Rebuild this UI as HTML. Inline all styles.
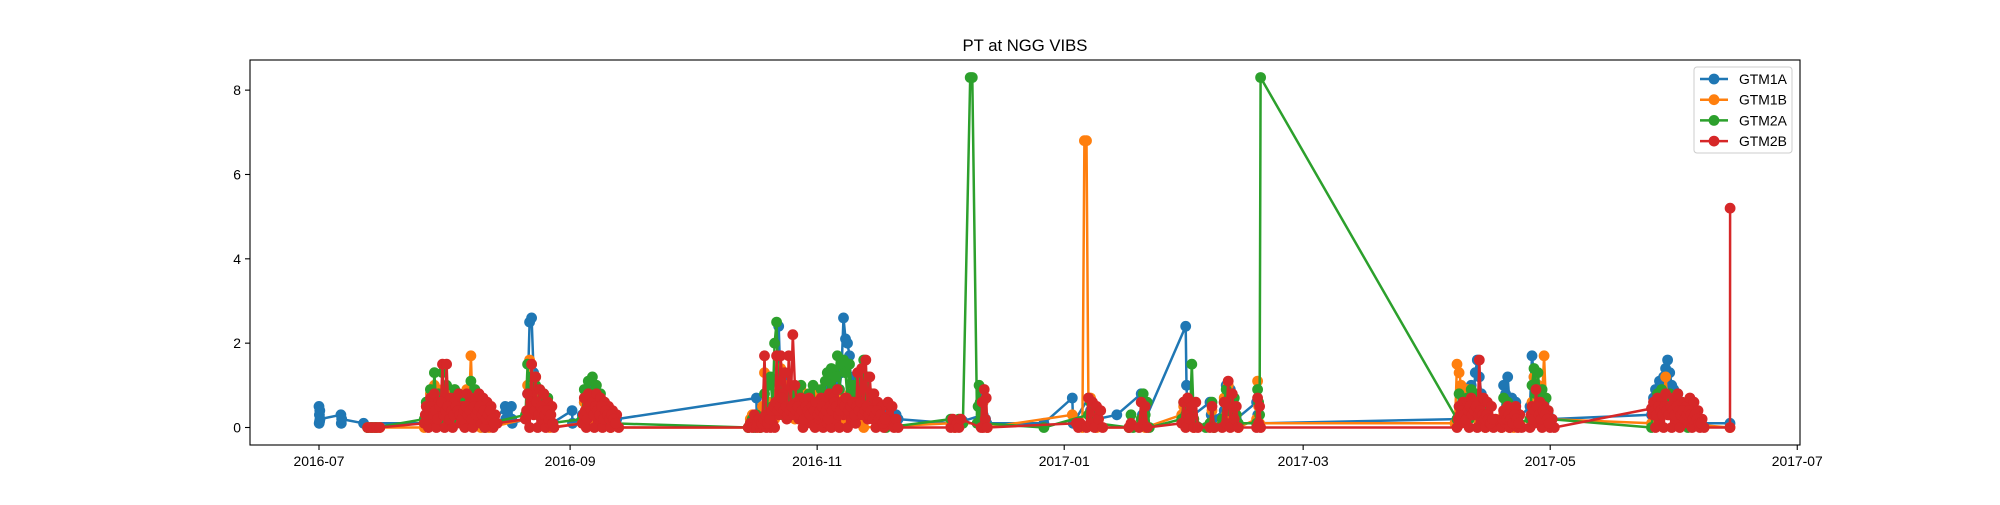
<!DOCTYPE html>
<html><head><meta charset="utf-8"><style>
body{margin:0;background:#fff;}
svg text{font-family:"Liberation Sans","DejaVu Sans",sans-serif;fill:#000;}
</style></head><body>
<svg id="chart" width="2000" height="500" xmlns="http://www.w3.org/2000/svg">
<rect width="2000" height="500" fill="#fff"/>
<text x="1025" y="51" font-size="16.7" text-anchor="middle">PT at NGG VIBS</text>
<g id="plot"></g>
<g id="axes"></g>
<g id="legend"></g>
</svg>
<script>
// segments: [startDay (days since 2016-07-01), sampleStepDays, values]
const gtm1aSegments = [
 [0,0.05,[0.5,0.1,0.3,0.15,0.4,0.2]],[5.4,0.1,[0.3,0.1,0.2]],[11,0.5,[0.1]],
 [26,0.5,[0.1,0.6,0.2,0.5,0.3,0.7,0.1,0.5,0.4,0.6,0.2,0.5,0.1,0.6,0.3,0.4,0.2,0.7,0.1,0.5,0.3,0.6,0.2,0.5,0.1,0.6,0.2,0.4,0.1,0.3,0.1,0.2,0.1,0.1,0.1]],
 [46,0.1,[0.5,0.2,0.4]],[47.5,0.1,[0.5,0.2,0.1]],
 [51,0.5,[0.2,0.8,2.5,2.6,1.3,0.8,0.4,0.7,0.3,0.6,0.2,0.5,0.1,0.1]],
 [62.5,0.1,[0.4,0.1]],
 [65,0.5,[0.3,0.6,0.9,0.4,1.0,0.5,0.8,0.3,0.7,0.2,0.6,0.3,0.5,0.2,0.4,0.2,0.2,0.2]],
 [108,0.1,[0.7,0.1]],
 [110,0.5,[0.1,0.4,0.2,0.3,0.1,0.5,1.1,2.4,0.9,1.3,0.6,1.2,0.5,0.8,0.3,0.6,0.4,0.7,0.3,0.8,0.4,0.6,0.3,0.7,0.5,0.4,0.6,0.3,0.5,0.8,0.4,0.9,0.5,1.0,0.6,1.1,0.4,0.9,1.3,2.6,2.1,2.0,1.7,0.8,1.2,0.5,0.7,0.4,0.6,0.3,0.5,0.4,0.6,0.3,0.5,0.3,0.4,0.3,0.3,0.3,0.3,0.4,0.3,0.3,0.3,0.3,0.2]],
 [156,1,[0.1,0.1,0.1,0.15]],[164,0.3,[0.3,0.7,0.2,0.1]],[179,1,[0.1]],[186,0.2,[0.7,0.1]],
 [190,0.5,[0.7,0.4,0.5,0.3,0.2]],[197,1,[0.3]],[203,0.3,[0.8,0.3,0.1]],[214,0.2,[2.4,1.0,0.5,0.2]],
 [220,0.3,[0.6,0.3,0.2]],[223.5,0.5,[0.4,1.0,0.6,0.9,0.3,0.5,0.2]],[231.5,0.3,[0.6,0.3,0.1]],
 [281,0.5,[0.2,0.5,0.3,0.8,0.5,0.9,0.4,1.0,0.6,1.3,1.6,1.2,0.8,0.5,0.3]],
 [292,0.5,[0.2,1.0,0.8,1.2,0.5,0.7,0.4,0.6,0.2]],
 [299,0.5,[0.5,1.7,1.2,0.8,1.0,0.7,0.5,0.6,0.4,0.3,0.2]],
 [329,0.5,[0.3,0.7,0.9,0.6,1.1,0.8,1.2,1.4,1.6,1.3,1.0,0.9,0.6,0.8,0.5,0.6,0.3,0.2,0.1]],
 [348.4,0.1,[0.1]]
];
const gtm1bSegments = [
 [12,0.75,[0,0,0,0,0]],
 [26,0.5,[0,0.5,0.2,0.8,0.1,1.0,0.3,0.7,0.1,0.9,0.2,0.6,0.3,0.8,0.1,0.6,0.2,0.7,0.1,0.5,0.3,0.9,0.4,1.7,0.2,0.6,0.1,0.5,0,0.4,0.1,0.3,0]],
 [51,0.5,[0.2,1.0,1.6,1.5,0.8,1.2,0.4,0.7,0.2,0.6,0.1,0.5,0]],
 [65,0.5,[0.1,0.6,0.3,0.7,0.2,0.8,0.3,0.6,0.2,0.7,0.1,0.5,0.3,0.4,0]],
 [106,0.5,[0,0.2,0.3,0.1,0.2,0,0.3,0.5,1.3,0.4,0.6,0.3,0.5,0.2,0.8,0.3,1.4,0.5,1.0,0.4,0.7,0.3,0.6,0.2,0.8,0.4,0.9,0.3,0.6,0.2,0.5,0.3,0.7,0.2,0.9,0.4,0.6,0.3,0.7,0.2,0.5,0.3,0.6,0.2,0.8,0.3,0.7,0.2,0.6,0.5,0.8,0.4,0.6,0.3,0.4,0.2,0.1,0]],
 [156,1,[0.1,0,0.1]],[163.5,0.5,[0.1,0.6,0.2,0]],[186,1,[0.3]],
 [188.5,0.5,[0,6.8,6.8,0.3,0.7,0.2,0.5,0]],[200,1,[0]],[203,0.5,[0.1,0.6,0]],
 [213,0.5,[0.3,0.5,0.2,0.7,0.3,0.5,0]],[220,0.5,[0.1,0.4,0]],
 [223,0.5,[0.1,0.7,0.3,1.0,0.4,0.6,0.2,0.3,0]],[231.5,0.25,[0.2,1.1,0.5,0.1]],
 [280.5,0.5,[0.1,1.5,1.3,1.0,0.8,0.6,0.9,0.4,0.7,0.3,0.6,0.2,0.5,0.1,0.3,0]],
 [292,0.5,[0,0.3,0.1,0.4,0,0.2,0]],
 [299,0.5,[0.2,0.6,1.2,0.8,1.0,0.5,0.7,1.7,0.4,0.2]],
 [329,0.5,[0.1,0.4,0.2,0.6,0.3,0.8,0.4,1.2,0.5,0.7,0.3,0.5,0.2,0.1]],
 [348.4,0.1,[0]]
];
const gtm2aSegments = [
 [12,1,[0,0,0]],
 [26,0.5,[0.2,0.6,0.1,0.9,0.3,1.3,0.4,0.8,0.2,1.3,0.5,1.0,0.3,0.7,0.2,0.9,0.4,0.8,0.1,0.6,0.3,0.7,0.2,1.1,0.5,0.9,0.2,0.6,0.1,0.5,0,0.3,0.1]],
 [51,0.5,[0.3,1.5,0.4,1.2,0.5,1.0,0.3,0.9,0.6,0.8,0.2,0.7,0.1]],
 [65,0.5,[0.2,0.9,0.4,1.1,0.6,1.2,0.5,1.0,0.4,0.8,0.3,0.6,0.2,0.4,0.1]],
 [106,0.5,[0,0.1,0.2,0,0.3,0.1,0,0.2,0.8,0.3,1.0,1.2,0.5,2.0,2.5,0.4,0.9,0.3,0.8,0.5,0.9,0.3,0.7,0.4,0.9,0.6,1.0,0.5,0.7,0.3,0.8,0.5,1.0,0.4,0.6,0.3,0.9,0.5,1.1,1.3,0.6,1.4,0.8,1.2,1.7,0.9,1.5,1.6,1.3,0.7,1.5,0.8,1.0,0.4,0.8,1.2,0.5,1.6,0.7,1.2,0.5,0.8,0.3,0.5,0.2,0.3,0.1,0.1,0]],
 [156,1,[0.2,0.1,0.2,0.1]],[160.8,0.5,[8.3,8.3]],[162.5,0.25,[0.1,0.5,1.0,0.6,0.3,0.1]],
 [179,1,[0]],[190,0.5,[0.3,0.6,0.2,0.5,0.1]],[200,0.5,[0,0.3,0]],[203,0.5,[0.2,0.8,0.3,0.6,0]],
 [213,0.5,[0.2,0.6,0.3,0.5,0.1,1.5,0.2]],[219,0.5,[0]],[220,0.5,[0.1,0.6,0]],
 [223,0.5,[0.2,0.6,0.9,0.4,0.8,0.5,0.7,0.3,0.1]],[231.5,0.25,[0.1,0.9,0.6,0.3,8.3]],
 [281,0.5,[0.2,0.8,0.3,0.6,0.4,0.7,0.2,0.9,0.3,0.8,0.4,0.7,0.2,0.5,0.1]],
 [292,0.5,[0.1,0.7,0.3,0.6,0.2,0.5,0.3,0.4,0.1]],
 [299,0.5,[0.2,1.0,1.4,0.8,1.3,0.6,0.9,0.5,0.7,0.4,0.2]],
 [329,0.5,[0,0.5,0.3,0.8,0.4,0.9,0.5,0.7,0.6,0.8,0.3,0.6,0.5,0.4,0.3,0.5,0.2,0.1,0]]
];
const gtm2bSegments = [
 [12,0.75,[0,0,0,0,0]],
 [26,0.5,[0.1,0.5,0,0.7,0.2,0.8,0,0.6,0.3,1.5,0,1.5,0.2,0.7,0,0.6,0.3,0.8,0.1,0.5,0,0.8,0.2,0.7,0,0.6,0.4,0.8,0.1,0.7,0,0.6,0.2,0.5,0,0.3,0.1]],
 [51,0.5,[0.2,0.8,0,1.5,0.3,1.2,0,0.9,0.2,0.8,0,0.6,0.1,0.5,0]],
 [65,0.5,[0.1,0.7,0,0.8,0.3,0.6,0,0.8,0.2,0.7,0,0.6,0.3,0.5,0,0.4,0.2,0.3,0]],
 [106,0.5,[0,0.1,0,0.3,0,0.2,0,0.1,1.7,0,0.2,0,0.1,0,1.7,0.3,1.7,0.8,1.3,0.2,1.7,0.5,2.2,1.0,0.6,0.2,0.7,0,0.6,0.3,0.7,0.1,0.6,0,0.5,0.2,0.7,0,0.6,0.1,0.8,0,0.7,0.2,0.9,0,0.6,0.3,0.7,0,0.5,0.2,0.6,0.1,1.3,0.3,1.4,0.5,1.6,0.2,1.2,0.4,0.8,0,0.6,0.3,0.5,0,0.2,0.6,0.1,0.5,0,0.2,0]],
 [156,0.5,[0,0.2,0,0.1,0,0.2]],[163.5,0.25,[0,0.6,0,0.9,0.2,0.7,0]],
 [187,0.5,[0.1,0,0.1]],[189.5,0.5,[0,0.7,0.1,0.6,0,0.5,0.2,0.4,0]],
 [200,0.5,[0,0.1]],[202.5,0.5,[0,0.6,0.1,0.5,0]],
 [213,0.5,[0.1,0.6,0,0.7,0.2,0.5,0,0.6,0]],[220,0.5,[0,0.5,0]],
 [223,0.5,[0,0.6,0.1,1.1,0,0.8,0.2,0.5,0]],[231.5,0.25,[0,0.7,0.1,0.5,0]],
 [281,0.5,[0,0.5,0.1,0.6,0.2,0.5,0,0.7,0.3,0.6,0,1.6,0.2,0.7,0,0.6,0.1,0.5,0,0.2]],
 [292,0.5,[0,0.4,0.1,0.5,0,0.3,0.2,0.5,0,0.3,0]],
 [299,0.5,[0,0.5,0.1,0.9,0.2,0.6,0,0.5,0.2,0.4,0,0.2,0]],
 [329,0.5,[0.45,0.6,0,0.7,0.2,0.6,0,0.8,0.3,0.5,0,0.7,0.2,0.8,0,0.6,0.3,0.5,0.1,0.7,0,0.6,0.2,0.4,0,0.2,0]],
 [348.4,0.02,[0,5.2]]
];
// additional GTM2B readings (intermediate samples within dense bursts)
const gtm2bBurstSegments = [
 [26.25,0.5,[0.3,0.2,0.4,0.5,0.3,0.4,0.2,0.5,0.6,0.3,0.4,0.5,0.2,0.4,0.3,0.5,0.4,0.3,0.2,0.4,0.5,0.3,0.4,0.2,0.5,0.3,0.4,0.5,0.3,0.4,0.2,0.3,0.4,0.2,0.1]],
 [51.25,0.5,[0.4,0.3,0.6,0.5,0.4,0.6,0.3,0.5,0.4,0.3,0.4,0.2,0.3,0.1]],
 [65.25,0.5,[0.3,0.4,0.2,0.5,0.4,0.3,0.5,0.4,0.3,0.5,0.2,0.4,0.3,0.2,0.3,0.2,0.1]],
 [108.25,0.5,[0.1,0.2,0.1,0.2,0.3,0.1,0.2,0.4,0.5,0.6,0.4,0.5,0.7,0.4,0.5,0.3,0.4,0.5,0.3,0.4,0.5,0.3,0.4,0.2,0.5,0.4,0.3,0.5,0.4,0.6,0.3,0.4,0.5,0.3,0.4,0.2,0.5,0.4,0.6,0.5,0.3,0.4,0.6,0.5,0.7,0.4,0.5,0.6,0.3,0.5,0.4,0.6,0.3,0.4,0.5,0.3,0.4,0.2,0.3,0.4,0.2,0.3,0.1,0.2]],
 [281.25,0.5,[0.2,0.3,0.4,0.3,0.2,0.4,0.5,0.3,0.4,0.5,0.3,0.4,0.3,0.2,0.3,0.2,0.1,0.2]],
 [292.25,0.5,[0.2,0.3,0.2,0.3,0.2,0.1,0.3,0.2,0.1]],
 [299.25,0.5,[0.3,0.2,0.4,0.5,0.3,0.2,0.4,0.3,0.2,0.1]],
 [329.25,0.5,[0.3,0.4,0.3,0.5,0.4,0.3,0.5,0.4,0.3,0.5,0.4,0.3,0.5,0.4,0.3,0.4,0.2,0.3,0.4,0.3,0.2,0.3,0.2,0.1,0.1]]
];
const seriesNames = ["GTM1A","GTM1B","GTM2A","GTM2B"];
const seriesColors = ["#1f77b4","#ff7f0e","#2ca02c","#d62728"];
const yTicks = [0,2,4,6,8];
const xTickDays = [0,62,123,184,243,304,365];
const xTickLabels = ["2016-07","2016-09","2016-11","2017-01","2017-03","2017-05","2017-07"];

const L=250,R=1800,T=60,B=445;
function xs(d){return 319 + d*4.05;}
function ys(v){return 427.5 - v*42.17;}
const NS="http://www.w3.org/2000/svg";
function mk(tag,attrs,parent){const e=document.createElementNS(NS,tag);for(const k in attrs)e.setAttribute(k,attrs[k]);parent.appendChild(e);return e;}
const plot=document.getElementById('plot'), axes=document.getElementById('axes'), legend=document.getElementById('legend');
const cp=mk('clipPath',{id:'clip'},plot);
mk('rect',{x:L,y:T,width:R-L,height:B-T},cp);

const MR=5.4, LW=2.5;
function drawPts(pts,color,g){
  const line=mk('polyline',{points:pts.map(p=>xs(p[0]).toFixed(1)+','+ys(p[1]).toFixed(1)).join(' '),fill:'none',stroke:color,'stroke-width':LW,'stroke-linejoin':'round'},g);
  
  
  pts.forEach(p=>{
    const c=mk('circle',{cx:xs(p[0]).toFixed(1),cy:ys(p[1]).toFixed(1),r:MR,fill:color},g);
    
    
  });
}
const allSeg=[gtm1aSegments,gtm1bSegments,gtm2aSegments,gtm2bSegments];
allSeg.forEach((segs,si)=>{
  const g=mk('g',{'clip-path':'url(#clip)'},plot);
  
  
  const pts=[];
  segs.forEach(s=>{s[2].forEach((v,i)=>pts.push([s[0]+i*s[1],v]));});
  drawPts(pts,seriesColors[si],g);
  if(si===3){
    gtm2bBurstSegments.forEach(s=>{
      const bp=s[2].map((v,i)=>[s[0]+i*s[1],v]);
      drawPts(bp,seriesColors[3],g);
    });
  }
});

mk('rect',{x:L,y:T,width:R-L,height:B-T,fill:'none',stroke:'#000','stroke-width':1.1},axes);
yTicks.forEach(v=>{
  const y=ys(v);
  const t=mk('line',{x1:L-5,x2:L,y1:y,y2:y,stroke:'#000','stroke-width':1.1},axes);
  
  
  const tx=mk('text',{x:L-9,y:y+5,'font-size':13.9,'text-anchor':'end'},axes);
  tx.textContent=v;
  
  
});
xTickDays.forEach((d,i)=>{
  const x=xs(d);
  const t=mk('line',{x1:x,x2:x,y1:B,y2:B+5,stroke:'#000','stroke-width':1.1},axes);
  
  
  const tx=mk('text',{x:x,y:B+21,'font-size':13.9,'text-anchor':'middle'},axes);
  tx.textContent=xTickLabels[i];
  
  
});

const lb=mk('rect',{x:1694,y:67,width:98,height:86,rx:3,fill:'#fff','fill-opacity':0.8,stroke:'#ccc','stroke-width':1},legend);


seriesNames.forEach((n,i)=>{
  const y=79+i*20.7;
  const g=mk('g',{},legend);
  
  
  mk('line',{x1:1700,x2:1728,y1:y,y2:y,stroke:seriesColors[i],'stroke-width':LW},g);
  mk('circle',{cx:1714,cy:y,r:MR,fill:seriesColors[i]},g);
  const t=mk('text',{x:1739,y:y+5,'font-size':13.9},g);
  t.textContent=n;
});
</script>
</body></html>
